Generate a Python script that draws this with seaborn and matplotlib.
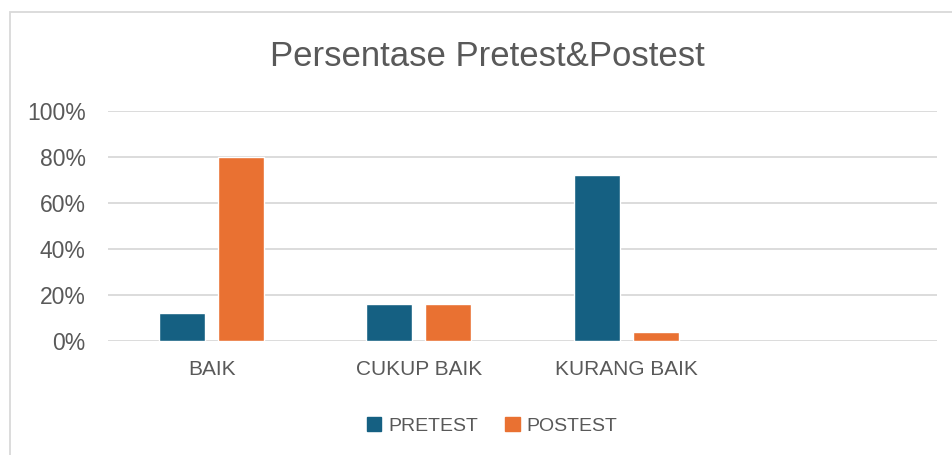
import matplotlib
matplotlib.use("Agg")
import matplotlib.pyplot as plt
import seaborn as sns
import pandas as pd
from matplotlib.patches import Rectangle
from matplotlib.ticker import PercentFormatter

categories = ["BAIK", "CUKUP BAIK", "KURANG BAIK"]
pretest = [0.12, 0.16, 0.72]
postest = [0.80, 0.16, 0.04]
series = ["PRETEST", "POSTEST"]
colors = ["#156082", "#E97132"]

df = pd.DataFrame({
    "Kategori": categories * 2,
    "Nilai": pretest + postest,
    "Seri": [series[0]] * 3 + [series[1]] * 3,
})

sns.set_style("white")
plt.rcParams["font.family"] = ["Liberation Sans", "DejaVu Sans"]
text_color = "#595959"

fig = plt.figure(figsize=(9.53, 4.55), dpi=100)
ax = fig.add_axes([108/953, 1-341/455, (937-108)/953, (341-111)/455])

sns.barplot(data=df, x="Kategori", y="Nilai", hue="Seri", order=categories,
            hue_order=series, palette=colors, width=0.57, gap=0.22,
            ax=ax, legend=False, saturation=1)

ax.set_xlim(-0.5, 3.5)
ax.set_ylim(0, 1.0)
ax.set_yticks([0, 0.2, 0.4, 0.6, 0.8, 1.0])
ax.yaxis.set_major_formatter(PercentFormatter(1.0, decimals=0))
ax.grid(axis="y", color="#D9D9D9", linewidth=1.3)
ax.set_axisbelow(True)
for s in ax.spines.values():
    s.set_visible(False)
ax.set_xlabel("")
ax.set_ylabel("")
ax.tick_params(axis="both", length=0, colors=text_color)
ax.tick_params(axis="x", pad=14, labelsize=15)
ax.tick_params(axis="y", pad=16, labelsize=16.5)

fig.text(487/953, 1-56/455, "Persentase Pretest&Postest", ha="center", va="center",
         fontsize=25, color=text_color)

handles = [Rectangle((0, 0), 1, 1, color=c) for c in colors]
fig.legend(handles, series, loc="center", bbox_to_anchor=(492/953, 1-426/455),
           ncol=2, frameon=False, fontsize=14, labelcolor=text_color,
           handlelength=0.75, handleheight=0.75, handletextpad=0.35, columnspacing=1.4)

fig.patches.append(Rectangle((10/953, -0.1), 1.2, 1.1 - 12/455, transform=fig.transFigure,
                             fill=False, edgecolor="#D9D9D9", linewidth=1.3))

fig.savefig("out.png", dpi=100)
